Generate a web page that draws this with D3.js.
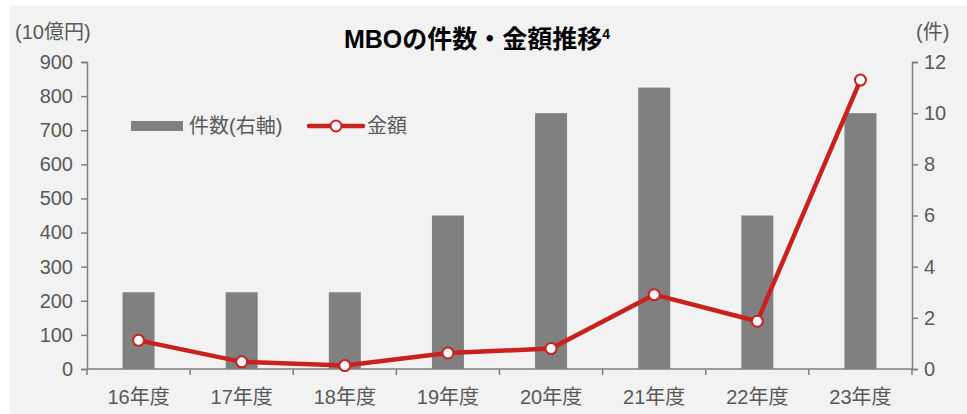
<!DOCTYPE html>
<html>
<head>
<meta charset="utf-8">
<script src="https://cdn.jsdelivr.net/npm/d3@7"></script>
<style>
  body { margin: 0; background: #ffffff; }
  text { font-family: "Liberation Sans", Arial, "Noto Sans CJK JP", sans-serif; }
</style>
</head>
<body>
<script>
    // data
    var years = ["16年度", "17年度", "18年度", "19年度", "20年度", "21年度", "22年度", "23年度"];
    var counts = [3, 3, 3, 6, 10, 11, 6, 10];          // 件数 (右軸)
    var amounts = [84, 21, 10, 47, 60, 218, 140, 847];  // 金額 (10億円)
    var leftTicks = [0, 100, 200, 300, 400, 500, 600, 700, 800, 900];
    var rightTicks = [0, 2, 4, 6, 8, 10, 12];

    function init() {
        var w = 967;
        var h = 414;
        var x0 = 87, x1 = 912, yTop = 62, yBase = 369;
        var grey = "#595959";
        var red = "#c9211e";
        var fs = "20px";

        var svg = d3.select("body")
                    .append("svg")
                    .attr("width", w)
                    .attr("height", h);

        // background panel
        svg.append("rect")
            .attr("x", 10).attr("y", 6)
            .attr("width", w - 10).attr("height", h - 6)
            .attr("fill", "#f2f2f2");

        // scales
        var xScale = d3.scaleBand()
            .domain(years)
            .range([x0, x1]);

        var yLeft = d3.scaleLinear().domain([0, 900]).range([yBase, yTop]);
        var yRight = d3.scaleLinear().domain([0, 12]).range([yBase, yTop]);

        function cx(i) { return xScale(years[i]) + xScale.bandwidth() / 2; }

        // bars
        var barW = xScale.bandwidth() * 0.31;
        svg.selectAll("rect.bar")
            .data(counts)
            .enter()
            .append("rect")
            .attr("class", "bar")
            .attr("x", function(d, i) { return cx(i) - barW / 2; })
            .attr("y", function(d) { return yRight(d); })
            .attr("width", barW)
            .attr("height", function(d) { return yBase - yRight(d); })
            .attr("fill", "#808080");

        // axes
        function styleAxis(g) {
            g.selectAll("path, line").attr("stroke", "#7f7f7f").attr("stroke-width", 1.5);
            g.selectAll("text").attr("fill", grey).style("font-size", fs);
        }

        svg.append("g")
            .attr("transform", "translate(" + x0 + ",0)")
            .call(d3.axisLeft(yLeft).tickValues(leftTicks).tickSize(6).tickSizeOuter(6).tickPadding(8))
            .call(styleAxis);

        svg.append("g")
            .attr("transform", "translate(" + x1 + ",0)")
            .call(d3.axisRight(yRight).tickValues(rightTicks).tickSize(6).tickSizeOuter(6).tickPadding(6))
            .call(styleAxis);

        // x axis: ticks at category boundaries
        var xAxis = svg.append("g")
            .attr("transform", "translate(0," + yBase + ")");
        xAxis.append("line")
            .attr("x1", x0).attr("x2", x1)
            .attr("stroke", "#7f7f7f").attr("stroke-width", 1.5);
        xAxis.selectAll("line.tick")
            .data(years.concat(["end"]))
            .enter()
            .append("line")
            .attr("class", "tick")
            .attr("x1", function(d, i) { return x0 + i * xScale.step(); })
            .attr("x2", function(d, i) { return x0 + i * xScale.step(); })
            .attr("y1", 0).attr("y2", 6)
            .attr("stroke", "#7f7f7f").attr("stroke-width", 1.5);
        xAxis.selectAll("text")
            .data(years)
            .enter()
            .append("text")
            .attr("x", function(d, i) { return cx(i); })
            .attr("y", 35)
            .attr("text-anchor", "middle")
            .attr("fill", grey)
            .style("font-size", fs)
            .text(function(d) { return d; });

        // line
        var line = d3.line()
            .x(function(d, i) { return cx(i); })
            .y(function(d) { return yLeft(d); });

        svg.append("path")
            .datum(amounts)
            .attr("d", line)
            .attr("fill", "none")
            .attr("stroke", red)
            .attr("stroke-width", 4.5);

        svg.selectAll("circle.pt")
            .data(amounts)
            .enter()
            .append("circle")
            .attr("class", "pt")
            .attr("cx", function(d, i) { return cx(i); })
            .attr("cy", function(d) { return yLeft(d); })
            .attr("r", 5.5)
            .attr("fill", "#ffffff")
            .attr("stroke", red)
            .attr("stroke-width", 2);

        // unit labels
        svg.append("text")
            .attr("x", 15).attr("y", 39)
            .attr("fill", grey).style("font-size", fs)
            .text("(10億円)");
        svg.append("text")
            .attr("x", 916).attr("y", 39)
            .attr("fill", grey).style("font-size", fs)
            .text("(件)");

        // title
        var title = svg.append("text")
            .attr("x", 477).attr("y", 48)
            .attr("text-anchor", "middle")
            .attr("fill", "#000000")
            .style("font-size", "25px")
            .style("font-weight", "bold");
        title.append("tspan").text("MBOの件数・金額推移");
        title.append("tspan").attr("dy", -9).style("font-size", "14px").text("4");

        // legend
        svg.append("rect")
            .attr("x", 131).attr("y", 121)
            .attr("width", 52).attr("height", 10)
            .attr("fill", "#808080");
        svg.append("text")
            .attr("x", 189).attr("y", 133)
            .attr("fill", grey).style("font-size", fs)
            .text("件数(右軸)");
        svg.append("line")
            .attr("x1", 309).attr("x2", 363)
            .attr("y1", 126).attr("y2", 126)
            .attr("stroke", red).attr("stroke-width", 4.5)
            .attr("stroke-linecap", "round");
        svg.append("circle")
            .attr("cx", 336).attr("cy", 126).attr("r", 5.5)
            .attr("fill", "#ffffff").attr("stroke", red).attr("stroke-width", 2);
        svg.append("text")
            .attr("x", 367).attr("y", 133)
            .attr("fill", grey).style("font-size", fs)
            .text("金額");
    }

    window.onload = init;
</script>
</body>
</html>
